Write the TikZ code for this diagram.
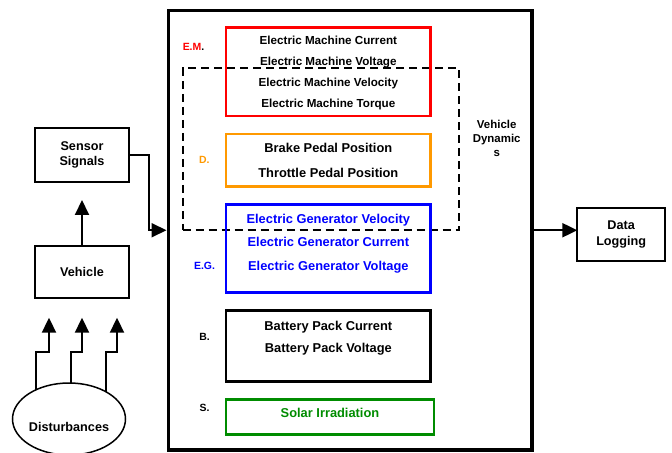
\documentclass[tikz,border=0pt]{standalone}
\usepackage{fontspec}
\setmainfont{Liberation Sans}
\usetikzlibrary{arrows.meta,positioning,shapes.geometric}
\definecolor{emred}{RGB}{255,0,0}
\definecolor{dorange}{RGB}{255,153,0}
\definecolor{egblue}{RGB}{0,0,255}
\definecolor{sgreen}{RGB}{0,140,0}

\begin{document}
\begin{tikzpicture}[
  x=1bp, y=-1bp,
  box/.style={draw,line width=2bp,align=center,inner sep=0pt,outer sep=0pt,minimum width=94bp,font=\fontsize{12.7}{14.5}\selectfont\bfseries},
  grp/.style={draw,line width=2.6bp,inner sep=0pt,outer sep=0pt,minimum width=204.7bp},
  txt/.style 2 args={align=center,inner sep=0pt,font=\fontsize{#1}{#2}\selectfont\bfseries},
  tag/.style={inner sep=0pt,font=\fontsize{10.5}{12}\selectfont\bfseries},
  arr/.style={-{Triangle[length=15bp,width=14bp]},line width=2bp}
]
\useasboundingbox (0,0) rectangle (672,453);
% main block
\node[draw,line width=3.5bp,minimum width=363.5bp,minimum height=439.5bp,inner sep=0pt,outer sep=0pt] (vd) at (350.25,230.25) {};
\node[draw,dash pattern=on 8bp off 5bp,line width=2bp,minimum width=276.6bp,minimum height=162bp,inner sep=0pt] (dyn) at (321,149) {};
\node[txt={11.5}{14}] (dyntxt) at (496.7,138) {Vehicle\\Dynamic\\s};
% signal groups
\node[grp,draw=emred,minimum height=88.7bp] (em) at (328.35,71.65) {};
\node[grp,draw=dorange,minimum height=52.7bp,below=18bp of em] (d) {};
\node[grp,draw=egblue,minimum height=88bp,below=18bp of d] (eg) {};
\node[grp,minimum height=71bp,below=18bp of eg] (bat) {};
\node[grp,draw=sgreen,minimum width=208bp,minimum height=34.7bp,below right=18bp and 0bp of bat.south west] (sol) {};
\node[txt={11.7}{21}] (emtxt) at ([yshift=-1bp]em.center) {Electric Machine Current\\Electric Machine Voltage\\Electric Machine Velocity\\Electric Machine Torque};
\node[txt={12.9}{24.4}] (dtxt) at (d.center) {Brake Pedal Position\\Throttle Pedal Position};
\node[txt={12.9}{23.5},text=egblue] (egtxt) at ([yshift=5bp]eg.center) {Electric Generator Velocity\\Electric Generator Current\\Electric Generator Voltage};
\node[txt={12.9}{22.6}] (battxt) at ([yshift=8bp]bat.center) {Battery Pack Current\\Battery Pack Voltage};
\node[txt={12.9}{15},text=sgreen] (soltxt) at ([yshift=4bp]sol.center) {Solar Irradiation};
\node[tag] (emtag) at (193.5,47.3) {\textcolor{emred}{E.M}.};
\node[tag,text=dorange] (dtag) at (204.3,160) {D.};
\node[tag,text=egblue] (egtag) at (204.5,266) {E.G.};
\node[tag] (battag) at (204.5,337.3) {B.};
\node[tag] (soltag) at (204.5,408.3) {S.};
% vehicle side
\node[box,minimum height=54bp] (ss) at (82,155) {Sensor\\Signals};
\node[box,minimum height=51.7bp,below=64bp of ss] (veh) {Vehicle};
\node[box,minimum width=87.7bp,minimum height=53bp,font=\fontsize{12.7}{16}\selectfont\bfseries] (dl) at (621.2,234.2) {Data\\Logging};
\node[draw,ellipse,line width=1.5bp,minimum width=113bp,minimum height=72bp,inner sep=0pt,outer sep=0pt] (dist) at (69,419) {};
\node[txt={12.7}{15}] (disttxt) at (69,427) {Disturbances};
% connectors
\draw[arr,shorten >=18bp] (veh.north) -- (ss.south);
\draw[arr,shorten >=2bp] (ss.east) -| ([xshift=-20bp]vd.west) -- (vd.west);
\draw[arr] (vd.east) -- (vd.east -| dl.west);
\foreach \a/\dx in {138.5/-33, 87.3/0, 36.3/35}
  \draw[arr] (dist.\a) |- ([xshift=\dx bp,yshift=-54bp]veh.south) -- ([xshift=\dx bp,yshift=-20bp]veh.south);
\end{tikzpicture}
\end{document}
